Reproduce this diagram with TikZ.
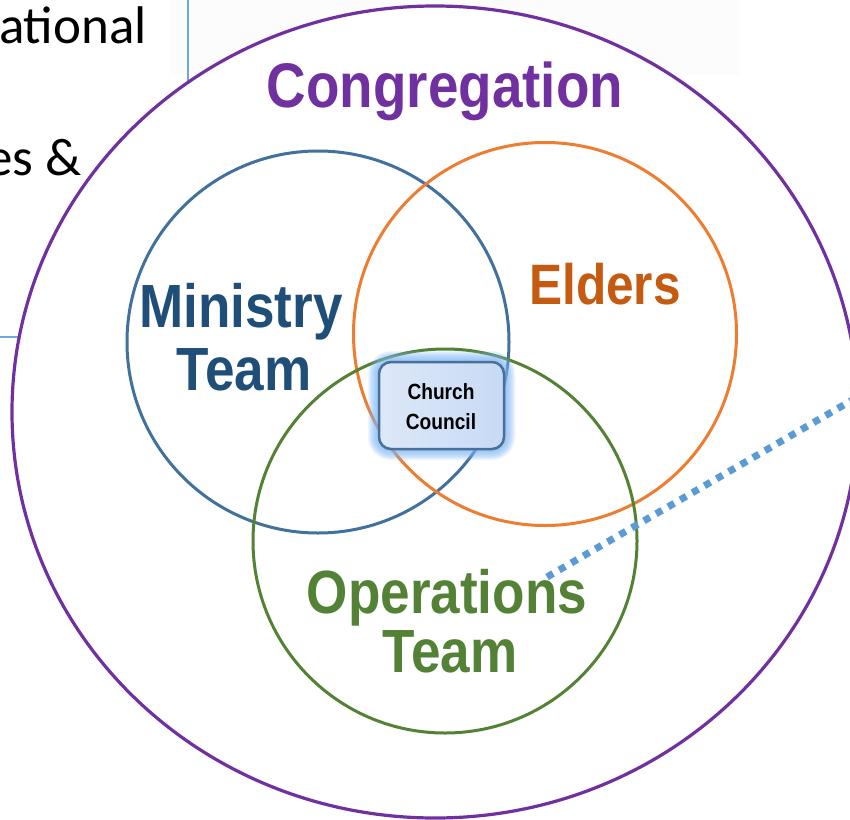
\documentclass[tikz,border=0pt]{standalone}
\usepackage{fontspec}
\newfontfamily\narb[FakeStretch=0.87]{Liberation Sans Bold}
\newfontfamily\calib{Carlito}
\definecolor{cpurple}{HTML}{7030A0}
\definecolor{cblue}{HTML}{41719C}
\definecolor{corange}{HTML}{ED7D31}
\definecolor{cgreen}{HTML}{548235}
\definecolor{tblue}{HTML}{1F4E79}
\definecolor{torange}{HTML}{C55A11}
\definecolor{tgreen}{HTML}{538135}
\definecolor{dotblue}{HTML}{5B9BD5}
\definecolor{boxline}{HTML}{6FA8DC}
\definecolor{glowblue}{HTML}{7DB8F7}
\definecolor{ccl}{HTML}{DDE8F8}
\definecolor{ccr}{HTML}{C7DAF4}
\definecolor{ccb}{HTML}{4A6F98}
\tikzset{
  ring/.style={circle, draw, line width=3pt, minimum size=#1, inner sep=0pt},
  biglab/.style={font=\narb\fontsize{61}{61}\selectfont, anchor=base, inner sep=0pt},
  smalllab/.style={font=\narb\fontsize{22}{22}\selectfont, anchor=base, inner sep=0pt},
  sidetext/.style={font=\calib\fontsize{53}{53}\selectfont, anchor=base east, inner sep=0pt},
}
\begin{document}
\begin{tikzpicture}[x=1pt,y=-1pt]
\useasboundingbox (0,0) rectangle (850,819);
\clip (0,0) rectangle (850,819);
% faint background shape at the top
\fill[gray!2] (170,-5) rectangle (740,75);
% text box (cut off at the left)
\draw[boxline, line width=2pt] (188,-5) -- (188,140);
\draw[boxline, line width=2pt] (-5,337) -- (60,337);
\node[sidetext] (t1) at (147,43) {ational};
\node[sidetext] (t2) at (82,175) {es \&};
% congregation
\fill[white] (435,412) ellipse [x radius=423, y radius=406];
\draw[cpurple, line width=3.2pt] (435,412) ellipse [x radius=423, y radius=406];
\node[biglab, text=cpurple, font=\narb\fontsize{63}{63}\selectfont] (cong) at (445,107) {Congregation};
% three circles
\node[ring=382, draw=cblue] (min) at (318,342) {};
\node[ring=383, draw=corange] (eld) at (545,334) {};
\node[ring=384, draw=cgreen] (ops) at (445,541) {};
% labels
\node[biglab, text=tblue] (minA) at (241,327) {Ministry};
\node[biglab, text=tblue] (minB) at (244,390) {Team};
\node[biglab, text=torange, font=\narb\fontsize{57}{57}\selectfont] (eldA) at (605,304) {Elders};
\node[biglab, text=tgreen] (opsA) at (447,613) {Operations};
\node[biglab, text=tgreen] (opsB) at (450,672) {Team};
% dotted connector
\coordinate (dotend) at (880,384);
\coordinate (dotstart) at (547,577);
\draw[dotblue, line width=7pt, dash pattern=on 7pt off 7pt] (dotstart) -- (dotend);
% church council glow
\foreach \g in {1,...,11}{
  \fill[glowblue, opacity=0.12, rounded corners={12pt+\g pt}]
    ({379-\g},{362-\g}) rectangle ({504+\g},{449+\g});
}
\node[draw=ccb, line width=2.5pt, rounded corners=12pt, left color=ccl, right color=ccr,
      minimum width=125pt, minimum height=87pt, inner sep=0pt] (cc) at (441.5,405.5) {};
\node[smalllab] (ccA) at (441,399) {Church};
\node[smalllab] (ccB) at (441,429) {Council};
\end{tikzpicture}
\end{document}
